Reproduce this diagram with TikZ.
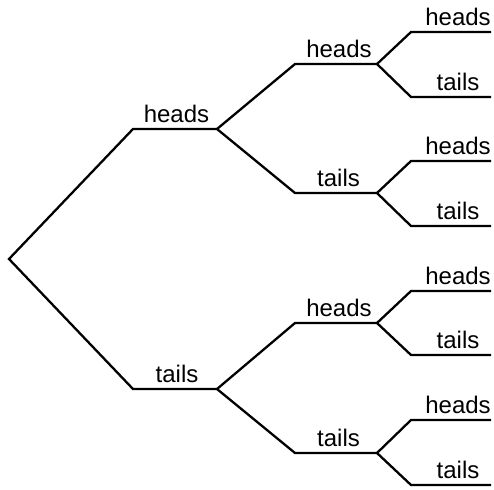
\documentclass[tikz,border=0pt]{standalone}
\usepackage{fontspec}
\setmainfont{Liberation Sans}
\begin{document}
\begin{tikzpicture}[x=1pt,y=-1pt,
  branch/.style={line width=2.3pt,line join=miter,black},
  lbl/.style={anchor=base,inner sep=0pt,font=\fontsize{24}{28}\selectfont}]
\useasboundingbox (0,0) rectangle (494,489);
% root
\coordinate (r) at (9,259);
% first toss
\coordinate (h0) at (133,129); \coordinate (h1) at (217,129);
\coordinate (t0) at (133,389); \coordinate (t1) at (217,389);
% second toss
\coordinate (hh0) at (295,64);  \coordinate (hh1) at (377,64);
\coordinate (ht0) at (295,193); \coordinate (ht1) at (377,193);
\coordinate (th0) at (295,323); \coordinate (th1) at (377,323);
\coordinate (tt0) at (295,453); \coordinate (tt1) at (377,453);
% third toss
\foreach \n/\y in {hhh/32,hht/97,hth/161,htt/226,thh/291,tht/355,tth/420,ttt/485}{
  \coordinate (\n0) at (411,\y); \coordinate (\n1) at (491,\y);
}
% branches
\draw[branch] (h1) -- (h0) -- (r) -- (t0) -- (t1);
\draw[branch] (hh1) -- (hh0) -- (h1) -- (ht0) -- (ht1);
\draw[branch] (th1) -- (th0) -- (t1) -- (tt0) -- (tt1);
\draw[branch] (hhh1) -- (hhh0) -- (hh1) -- (hht0) -- (hht1);
\draw[branch] (hth1) -- (hth0) -- (ht1) -- (htt0) -- (htt1);
\draw[branch] (thh1) -- (thh0) -- (th1) -- (tht0) -- (tht1);
\draw[branch] (tth1) -- (tth0) -- (tt1) -- (ttt0) -- (ttt1);
% labels
\node[lbl] (lh) at (176.5,122.5) {heads};
\node[lbl] (lt) at (177,382.5) {tails};
\foreach \n/\y in {hh/64,th/323}{\node[lbl] (l\n) at (339,\y-6.5) {heads};}
\foreach \n/\y in {ht/193,tt/453}{\node[lbl] (l\n) at (338.5,\y-6.5) {tails};}
\foreach \n/\y in {hhh/32,hth/161,thh/291,tth/420}{\node[lbl] (l\n) at (458,\y-6.5) {heads};}
\foreach \n/\y in {hht/97,htt/226,tht/355,ttt/485}{\node[lbl] (l\n) at (458,\y-6.5) {tails};}
\end{tikzpicture}
\end{document}
